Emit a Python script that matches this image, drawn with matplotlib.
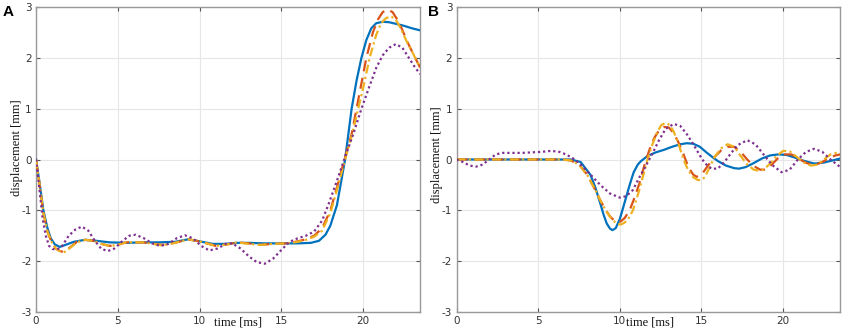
import matplotlib
matplotlib.use("Agg")
import matplotlib.pyplot as plt

plt.rcParams["axes.unicode_minus"] = False

# ---------------- Panel A data ----------------
tA_blue = [0, 0.2, 0.45, 0.7, 0.9, 1.15, 1.45, 1.8, 2.3, 3.0, 3.7, 4.5, 5.5, 6.5, 7.5, 8.5, 9.3, 10.0, 10.8,
           11.5, 12.3, 13.0, 14.0, 15.0, 16.0, 16.8, 17.3, 17.7, 18.0, 18.4, 18.9, 19.3, 19.6, 19.9, 20.2,
           20.5, 20.8, 21.2, 21.6, 22.0, 22.5, 23.0, 23.5]
yA_blue = [0, -0.42, -1.0, -1.35, -1.55, -1.67, -1.72, -1.68, -1.62, -1.58, -1.6, -1.63, -1.64, -1.63, -1.63,
           -1.62, -1.57, -1.61, -1.66, -1.66, -1.64, -1.64, -1.65, -1.65, -1.65, -1.64, -1.6, -1.48, -1.3,
           -0.9, 0.0, 1.0, 1.55, 2.0, 2.35, 2.58, 2.68, 2.71, 2.70, 2.67, 2.63, 2.58, 2.54]

tA_red = [0, 0.2, 0.45, 0.7, 0.95, 1.2, 1.45, 1.7, 2.0, 2.5, 3.0, 3.5, 4.0, 4.5, 5.0, 5.5, 6.5, 7.0, 7.7, 8.5,
          9.3, 10.0, 11.0, 11.7, 12.3, 13.0, 13.7, 14.5, 15.3, 16.0, 16.5, 17.0, 17.5, 18.0, 18.4, 18.9,
          19.3, 19.6, 19.9, 20.2, 20.6, 20.9, 21.2, 21.5, 21.8, 22.1, 22.4, 22.7, 23.0, 23.5]
yA_red = [0, -0.45, -1.05, -1.42, -1.62, -1.75, -1.8, -1.82, -1.75, -1.62, -1.58, -1.6, -1.66, -1.7, -1.68,
          -1.63, -1.63, -1.65, -1.68, -1.64, -1.57, -1.61, -1.7, -1.67, -1.63, -1.65, -1.68, -1.66, -1.65,
          -1.61, -1.57, -1.5, -1.35, -1.0, -0.55, 0.05, 0.5, 1.0, 1.5, 2.0, 2.5, 2.75, 2.9, 2.95, 2.9,
          2.75, 2.55, 2.32, 2.12, 1.8]

tA_yellow = [0, 0.2, 0.45, 0.7, 0.95, 1.2, 1.45, 1.7, 2.0, 2.5, 3.0, 3.5, 4.0, 4.5, 5.0, 5.5, 6.5, 7.0, 7.7,
             8.5, 9.3, 10.0, 11.0, 11.7, 12.3, 13.0, 13.7, 14.5, 15.3, 16.0, 16.5, 17.0, 17.5, 18.0, 18.4,
             18.9, 19.3, 19.7, 20.0, 20.4, 20.8, 21.1, 21.4, 21.7, 22.0, 22.3, 22.7, 23.0, 23.5]
yA_yellow = [0, -0.45, -1.05, -1.42, -1.62, -1.75, -1.8, -1.83, -1.76, -1.63, -1.58, -1.6, -1.66, -1.7,
             -1.68, -1.63, -1.63, -1.65, -1.69, -1.64, -1.57, -1.61, -1.7, -1.67, -1.63, -1.66, -1.68,
             -1.66, -1.65, -1.62, -1.58, -1.52, -1.4, -1.05, -0.6, 0.0, 0.45, 1.0, 1.4, 2.0, 2.45, 2.68,
             2.78, 2.82, 2.75, 2.58, 2.3, 2.12, 1.8]

tA_purple = [0, 0.2, 0.4, 0.6, 0.8, 1.0, 1.3, 1.6, 2.0, 2.4, 2.8, 3.2, 3.6, 4.0, 4.4, 4.8, 5.3, 5.7, 6.1,
             6.6, 7.1, 7.6, 8.1, 8.6, 9.1, 9.6, 10.1, 10.6, 11.1, 11.6, 12.0, 12.5, 13.0, 13.5, 14.0, 14.5,
             15.0, 15.5, 16.0, 16.5, 17.0, 17.5, 17.9, 18.4, 18.9, 19.4, 19.9, 20.4, 20.8, 21.2, 21.6,
             22.0, 22.4, 22.8, 23.2, 23.5]
yA_purple = [0, -0.55, -1.15, -1.5, -1.7, -1.76, -1.77, -1.7, -1.5, -1.38, -1.32, -1.4, -1.6, -1.76, -1.8,
             -1.75, -1.6, -1.5, -1.48, -1.55, -1.65, -1.7, -1.66, -1.55, -1.49, -1.55, -1.7, -1.79, -1.75,
             -1.66, -1.65, -1.75, -1.9, -2.02, -2.05, -1.95, -1.78, -1.62, -1.55, -1.5, -1.42, -1.2,
             -0.87, -0.42, 0.05, 0.5, 1.0, 1.45, 1.8, 2.05, 2.2, 2.27, 2.2, 2.0, 1.8, 1.68]

# ---------------- Panel B data ----------------
tB_blue = [0, 7.0, 7.6, 8.2, 8.5, 8.8, 9.0, 9.2, 9.4, 9.55, 9.75, 10.0, 10.2, 10.45, 10.65, 10.85, 11.1,
           11.3, 11.7, 12.2, 12.7, 13.2, 13.7, 14.1, 14.5, 14.9, 15.3, 15.7, 16.0, 16.5, 17.0, 17.3, 17.7,
           18.2, 18.7, 19.2, 19.7, 20.2, 20.7, 21.2, 21.9, 22.5, 23.0, 23.5]
yB_blue = [0, 0, -0.05, -0.3, -0.55, -0.86, -1.08, -1.26, -1.36, -1.39, -1.35, -1.17, -0.95, -0.67, -0.45,
           -0.25, -0.1, -0.03, 0.07, 0.14, 0.19, 0.25, 0.3, 0.32, 0.31, 0.25, 0.14, 0.04, -0.03, -0.12,
           -0.17, -0.18, -0.15, -0.07, 0.02, 0.08, 0.1, 0.09, 0.04, -0.02, -0.08, -0.06, -0.02, 0.02]

tB_red = [0, 6.5, 7.0, 7.5, 8.0, 8.5, 8.8, 9.1, 9.4, 9.65, 9.85, 10.05, 10.3, 10.6, 10.9, 11.2, 11.5, 11.8,
          12.1, 12.4, 12.7, 13.0, 13.3, 13.6, 13.9, 14.2, 14.5, 14.7, 15.0, 15.4, 15.8, 16.2, 16.6, 17.0,
          17.4, 17.8, 18.2, 18.6, 18.9, 19.3, 19.7, 20.1, 20.5, 20.9, 21.3, 21.7, 22.0, 22.4, 22.8, 23.2,
          23.5]
yB_red = [0, 0, -0.02, -0.1, -0.3, -0.6, -0.8, -0.98, -1.12, -1.2, -1.23, -1.22, -1.15, -1.0, -0.75, -0.47,
          -0.12, 0.18, 0.42, 0.57, 0.64, 0.63, 0.52, 0.33, 0.1, -0.15, -0.3, -0.34, -0.3, -0.12, 0.05,
          0.18, 0.25, 0.25, 0.15, 0.0, -0.13, -0.2, -0.2, -0.1, 0.03, 0.1, 0.1, 0.03, -0.05, -0.1, -0.1,
          -0.05, 0.03, 0.08, 0.1]

tB_yellow = [0, 6.5, 7.0, 7.5, 8.0, 8.5, 8.8, 9.1, 9.4, 9.7, 9.9, 10.05, 10.25, 10.5, 10.8, 11.1, 11.4,
             11.7, 12.0, 12.3, 12.55, 12.8, 13.05, 13.3, 13.6, 13.9, 14.2, 14.5, 14.75, 14.95, 15.2, 15.5,
             15.8, 16.2, 16.6, 17.0, 17.4, 17.8, 18.2, 18.5, 18.8, 19.2, 19.6, 20.0, 20.4, 20.8, 21.2,
             21.7, 22.1, 22.5, 22.9, 23.2, 23.5]
yB_yellow = [0, 0, -0.02, -0.1, -0.3, -0.6, -0.8, -0.98, -1.13, -1.23, -1.27, -1.28, -1.25, -1.18, -1.0,
             -0.7, -0.35, 0.0, 0.3, 0.55, 0.68, 0.72, 0.68, 0.55, 0.3, 0.0, -0.22, -0.35, -0.4, -0.41,
             -0.35, -0.15, 0.05, 0.22, 0.3, 0.25, 0.07, -0.1, -0.2, -0.22, -0.2, -0.08, 0.07, 0.17, 0.16,
             0.06, -0.05, -0.12, -0.1, 0.0, 0.1, 0.13, 0.12]

tB_purple = [0, 0.4, 0.8, 1.2, 1.6, 2.0, 2.4, 2.8, 3.3, 4.0, 4.6, 5.2, 5.8, 6.3, 6.7, 7.1, 7.5, 7.9, 8.3,
             8.8, 9.4, 10.0, 10.4, 10.8, 11.2, 11.6, 12.0, 12.4, 12.8, 13.3, 13.7, 14.1, 14.5, 14.9, 15.2,
             15.6, 16.0, 16.4, 16.8, 17.2, 17.8, 18.3, 18.8, 19.3, 19.9, 20.4, 20.9, 21.4, 21.9, 22.4,
             22.9, 23.5]
yB_purple = [0, -0.05, -0.12, -0.14, -0.1, 0.0, 0.1, 0.13, 0.13, 0.13, 0.14, 0.15, 0.17, 0.15, 0.1, 0.03,
             -0.07, -0.2, -0.33, -0.5, -0.67, -0.75, -0.72, -0.6, -0.35, -0.12, 0.12, 0.38, 0.6, 0.7,
             0.66, 0.5, 0.3, 0.08, -0.07, -0.18, -0.18, -0.05, 0.12, 0.28, 0.38, 0.3, 0.1, -0.1, -0.25,
             -0.2, 0.0, 0.15, 0.21, 0.15, 0.0, -0.15]

x_ticks = [0, 5, 10, 15, 20]
y_ticks = [-3, -2, -1, 0, 1, 2, 3]

C_BLUE = "#0072BD"
C_RED = "#D95319"
C_YELLOW = "#EDB120"
C_PURPLE = "#7E2F8E"

fig = plt.figure(figsize=(8.43, 3.33), dpi=100)
axA = fig.add_axes([36 / 843, 1 - 312 / 333, 383.5 / 843, 305 / 333])
axB = fig.add_axes([456.5 / 843, 1 - 312 / 333, 383 / 843, 305 / 333])

panels = [
    (axA, (tA_blue, yA_blue), (tA_red, yA_red), (tA_yellow, yA_yellow), (tA_purple, yA_purple), 0.527, 0.54),
    (axB, (tB_blue, yB_blue), (tB_red, yB_red), (tB_yellow, yB_yellow), (tB_purple, yB_purple), 0.505, 0.515),
]

for ax, blue, red, yellow, purple, xlab_x, ylab_y in panels:
    ax.plot(*blue, color=C_BLUE, lw=1.6, ls="-", zorder=3)
    ax.plot(*red, color=C_RED, lw=1.6, ls=(0, (5, 3)), zorder=4)
    ax.plot(*yellow, color=C_YELLOW, lw=1.6, ls=(0, (4, 1.5, 1, 1.5)), zorder=5)
    ax.plot(*purple, color=C_PURPLE, lw=1.6, ls=(0, (1, 1.3)), zorder=6)
    ax.set_xlim(0, 23.45)
    ax.set_ylim(-3, 3)
    ax.set_xticks(x_ticks)
    ax.set_yticks(y_ticks)
    ax.grid(True, color="#e6e6e6", lw=0.8)
    ax.set_axisbelow(True)
    ax.tick_params(direction="in", length=3, width=0.8, colors="#555555", labelsize=7.5,
                   top=True, right=True, labelcolor="#333333", pad=3)
    for s in ax.spines.values():
        s.set_color("#999999")
        s.set_linewidth(1.0)
    ax.set_xlabel("time [ms]", family="Liberation Serif", fontsize=9, color="#111111")
    ax.xaxis.set_label_coords(xlab_x, -0.015)
    ax.set_ylabel("displacement [mm]", family="Liberation Serif", fontsize=9, color="#111111")
    ax.yaxis.set_label_coords(-0.034, ylab_y)

fig.text(3 / 843, 1 - 5 / 333, "A", fontsize=11, fontweight="bold", family="Liberation Sans",
         va="top", ha="left")
fig.text(428 / 843, 1 - 5 / 333, "B", fontsize=11, fontweight="bold", family="Liberation Sans",
         va="top", ha="left")

fig.savefig("out.png", dpi=100)
